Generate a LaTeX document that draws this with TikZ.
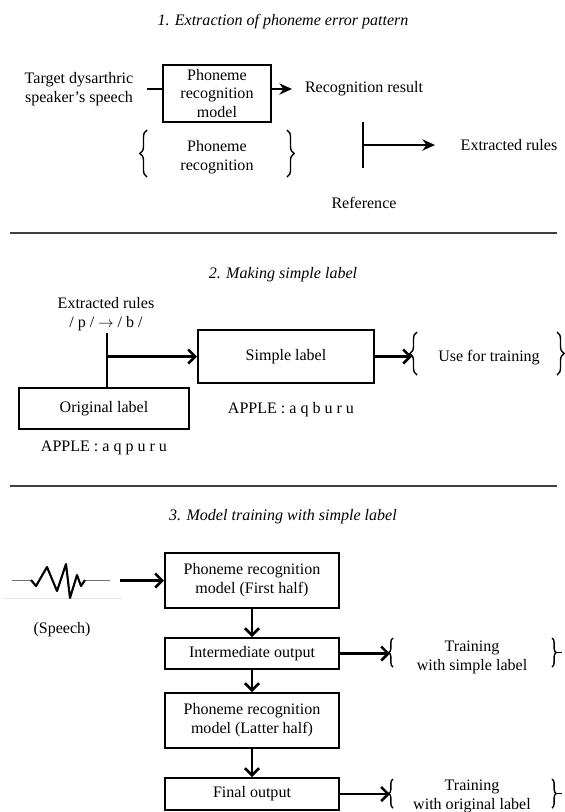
\documentclass[tikz,border=0pt]{standalone}
\usepackage{fontspec}
\setmainfont{Liberation Serif}
\usetikzlibrary{arrows.meta,decorations.pathreplacing}
\tikzset{
  txt/.style={font=\fontsize{11.4}{13.5}\selectfont,align=center,inner sep=0pt},
  ttl/.style={font=\fontsize{11.4}{13.5}\selectfont\itshape,inner sep=0pt},
  blk/.style={draw,line width=1.4pt,font=\fontsize{11.4}{13.5}\selectfont,align=center,inner sep=0pt},
  thk/.style={line width=1.8pt},
  sep/.style={line width=1.1pt,black!75},
  sarr/.style={line width=1.8pt,-{Stealth[length=9pt,width=8pt]}},
  barr/.style={line width=1.8pt,-{Straight Barb[length=5pt,width=10pt]}},
  brc/.style={decorate,decoration={brace,amplitude=#1},line width=1pt},
  brc/.default=5pt
}
\begin{document}
\begin{tikzpicture}[x=0.025cm,y=-0.025cm]
\useasboundingbox (0,0) rectangle (565,812);
\node[ttl] (t1) at (283,22) {1. Extraction of phoneme error pattern};
\node[txt] (spk) at (79,89) {Target dysarthric\\speaker's speech};
\node[blk,minimum width=2.7cm,minimum height=1.425cm] (pm) at (217,93.5) {Phoneme\\recognition\\model};
\coordinate (spkout) at (147,89);
\draw[thk] (spkout) -- (spkout -| pm.west);
\node[txt] (res) at (364,89) {Recognition result};
\coordinate (resin) at (292,89);
\draw[sarr] (pm.east |- resin) -- (resin);
\node[txt] (prc) at (217,157) {Phoneme\\recognition};
\draw[brc] (147,177) -- (147,130);
\draw[brc] (287,130) -- (287,177);
\coordinate (reftop) at (363,122);
\coordinate (refbot) at (363,168);
\draw[thk] (reftop) -- (refbot);
\node[txt] (ref) at (364,203) {Reference};
\node[txt] (rul) at (509,145) {Extracted rules};
\coordinate (rulin) at (435,145);
\draw[sarr] (reftop |- rulin) -- (rulin);
\draw[sep] (10,233) -- (557,233);
\node[ttl] (t2) at (283,275) {2. Making simple label};
\node[txt] (rul2) at (106,314) {Extracted rules\\/ p / $\rightarrow$ / b /};
\node[blk,minimum width=4.4cm,minimum height=1.325cm] (simp) at (286,356.5) {Simple label};
\node[blk,minimum width=4.25cm,minimum height=1.025cm] (orig) at (104,408.5) {Original label};
\coordinate (rultop) at (107,333);
\draw[thk] (rultop) -- (rultop |- orig.north);
\draw[barr] (rultop |- simp.west) -- (simp.west);
\coordinate (usein) at (412,356.5);
\draw[barr] (simp.east) -- (usein);
\draw[brc] (417,375) -- (417,332);
\draw[brc] (557,332) -- (557,375);
\node[txt] (use) at (489,358) {Use for training};
\node[txt] (ap1) at (291,410) {APPLE : a q b u r u};
\node[txt] (ap2) at (104,448) {APPLE : a q p u r u};
\draw[sep] (10,486) -- (557,486);
\node[ttl] (t3) at (283,517) {3. Model training with simple label};
\draw[black!10,line width=0.6pt] (3,598) -- (122,598);
\draw[black!55,line width=0.7pt] (12,580) -- (31,580) (85,580) -- (110,580);
\draw[line width=1.5pt,line join=round] (31,580) -- (36,586) -- (47,567) -- (57,591) -- (66,564) -- (70,598) -- (77,575) -- (81,586) -- (85,580);
\node[txt] (sph) at (62,630) {(Speech)};
\node[blk,minimum width=4.35cm,minimum height=1.375cm] (b1) at (252,580.5) {Phoneme recognition\\model (First half)};
\node[blk,minimum width=4.35cm,minimum height=0.775cm] (b2) at (252,653.5) {Intermediate output};
\node[blk,minimum width=4.35cm,minimum height=1.375cm] (b3) at (252,720.5) {Phoneme recognition\\model (Latter half)};
\node[blk,minimum width=4.35cm,minimum height=0.8cm] (b4) at (252,794) {Final output};
\coordinate (sphout) at (120,580.5);
\draw[barr] (sphout) -- (b1.west);
\draw[barr] (b1) -- (b2);
\draw[barr] (b2) -- (b3);
\draw[barr] (b3) -- (b4);
\coordinate (tr1in) at (390,653.5);
\coordinate (tr2in) at (390,794);
\draw[barr] (b2.east) -- (tr1in);
\draw[barr] (b4.east) -- (tr2in);
\draw[brc=3pt] (393,667) -- (393,638);
\draw[brc=3pt] (552,638) -- (552,667);
\draw[line width=1pt] (556,652.5) -- (562,652.5);
\draw[brc=3pt] (393,808) -- (393,779);
\draw[brc=3pt] (552,779) -- (552,808);
\draw[line width=1pt] (556,793.5) -- (562,793.5);
\node[txt] (tr1) at (472,657) {Training\\with simple label};
\node[txt] (tr2) at (472,796) {Training\\with original label};
\end{tikzpicture}
\end{document}
